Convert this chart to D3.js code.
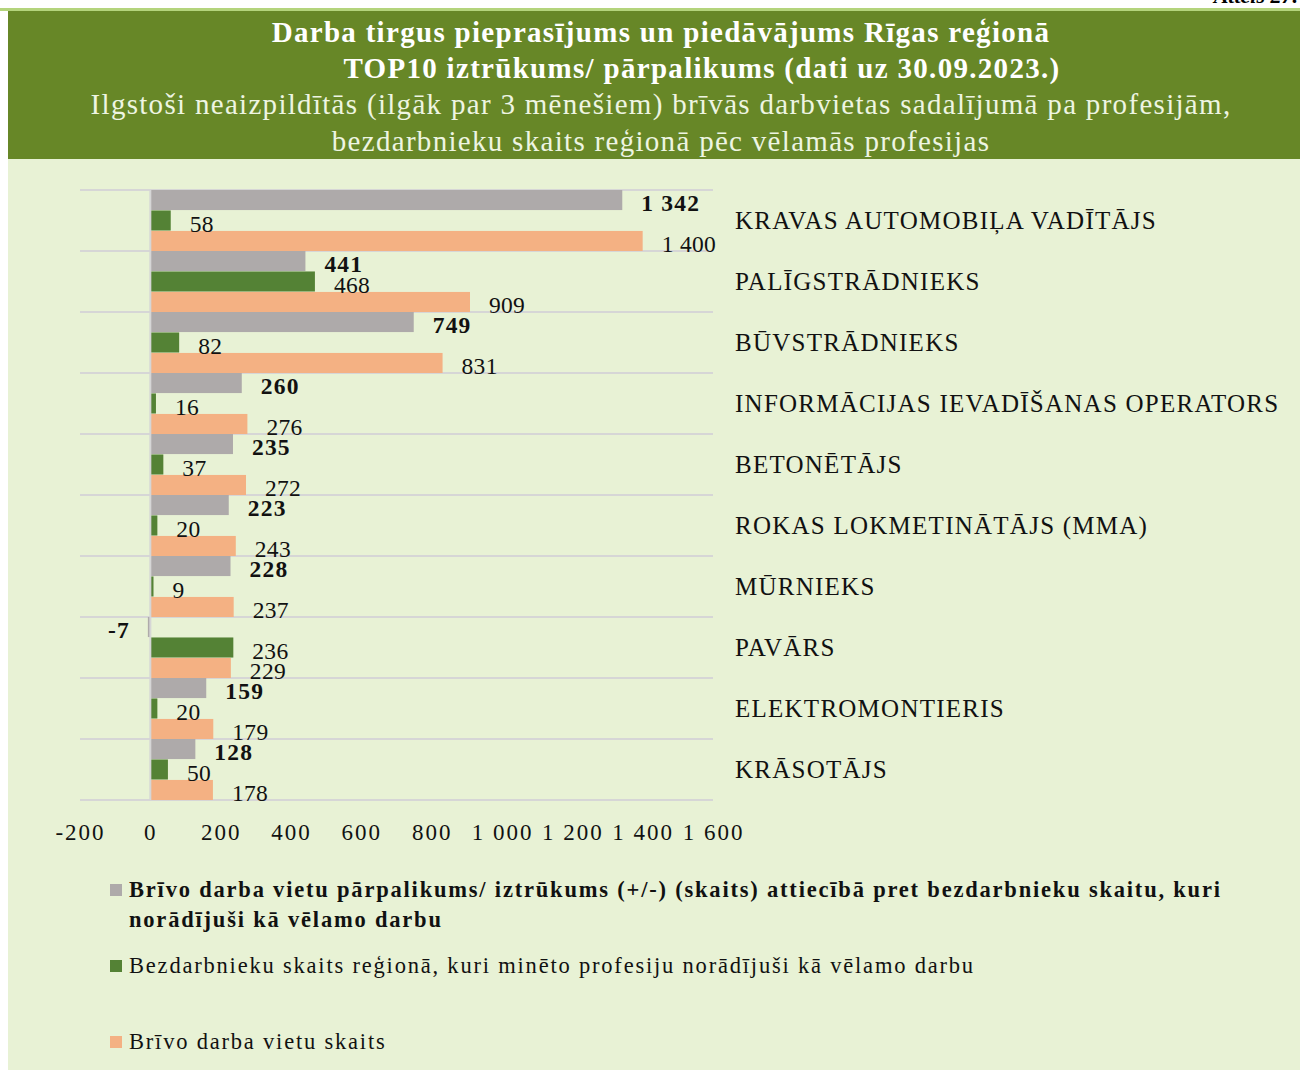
<!DOCTYPE html>
<html>
<head>
<meta charset="utf-8">
<script src="https://cdn.jsdelivr.net/npm/d3@7"></script>
<style>
  body { margin: 0; background: #fff; }
  svg { display: block; font-family: "Liberation Serif", "Times New Roman", serif; }
</style>
</head>
<body>
<div id="chart"></div>
<script>
const categories = [
  "KRAVAS AUTOMOBIĻA VADĪTĀJS",
  "PALĪGSTRĀDNIEKS",
  "BŪVSTRĀDNIEKS",
  "INFORMĀCIJAS IEVADĪŠANAS OPERATORS",
  "BETONĒTĀJS",
  "ROKAS LOKMETINĀTĀJS (MMA)",
  "MŪRNIEKS",
  "PAVĀRS",
  "ELEKTROMONTIERIS",
  "KRĀSOTĀJS"
];
const surplus = [1342, 441, 749, 260, 235, 223, 228, -7, 159, 128];
const unemployed = [58, 468, 82, 16, 37, 20, 9, 236, 20, 50];
const vacancies = [1400, 909, 831, 276, 272, 243, 237, 229, 179, 178];
const xTicks = [-200, 0, 200, 400, 600, 800, 1000, 1200, 1400, 1600];

const legendLabels = [
  ["Brīvo darba vietu pārpalikums/ iztrūkums (+/-) (skaits) attiecībā pret bezdarbnieku skaitu, kuri",
   "norādījuši kā vēlamo darbu"],
  ["Bezdarbnieku skaits reģionā, kuri minēto profesiju norādījuši kā vēlamo darbu"],
  ["Brīvo darba vietu skaits"]
];

const width = 1300, height = 1070;
const color = { gray: '#aeaaaa', green: '#548235', orange: '#f4b183', grid: '#d6d6d6' };
const fmt = v => d3.format(",d")(v).replace(/,/g, " ").replace("−", "-");

const svg = d3.select("#chart").append("svg")
  .attr("width", width).attr("height", height);

// backgrounds
svg.append("rect").attr("x", 0).attr("y", 8).attr("width", width).attr("height", 3).attr("fill", "#b4d47c");
svg.append("rect").attr("x", 8).attr("y", 11).attr("width", width - 8).attr("height", 148).attr("fill", "#678727");
svg.append("rect").attr("x", 8).attr("y", 159).attr("width", width - 8).attr("height", height - 159).attr("fill", "#e8f2d5");

svg.append("text").attr("x", 1298).attr("y", 3).attr("text-anchor", "end")
  .attr("font-size", 22).attr("font-style", "italic").attr("font-weight", "bold")
  .text("Attēls 27.");

// title
const titles = [
  { t: "Darba tirgus pieprasījums un piedāvājums Rīgas reģionā", x: 661, y: 42, b: true },
  { t: "TOP10 iztrūkums/ pārpalikums (dati uz 30.09.2023.)", x: 702, y: 78, b: true },
  { t: "Ilgstoši neaizpildītās (ilgāk par 3 mēnešiem) brīvās darbvietas sadalījumā pa profesijām,", x: 661, y: 114, b: false },
  { t: "bezdarbnieku skaits reģionā pēc vēlamās profesijas", x: 661, y: 151, b: false }
];
svg.append("g").selectAll("text").data(titles).enter().append("text")
  .attr("x", d => d.x).attr("y", d => d.y)
  .attr("text-anchor", "middle")
  .attr("font-size", 29)
  .attr("letter-spacing", 1.3)
  .attr("font-weight", d => d.b ? "bold" : "normal")
  .attr("fill", d => d.b ? "#ffffff" : "#eef5e2")
  .text(d => d.t);

// scales
const x = d3.scaleLinear().domain([-200, 1600]).range([80, 713]);
const y = d3.scaleBand().domain(categories).range([190, 800]).padding(0);
const sub = d3.scaleBand().domain([0, 1, 2]).range([0, y.bandwidth()]).paddingInner(0.02);

// gridlines between categories
const bounds = categories.map(c => y(c)).concat([y.range()[1]]);
svg.append("g").selectAll("line").data(bounds).enter().append("line")
  .attr("x1", x(-200)).attr("x2", x(1600))
  .attr("y1", d => d).attr("y2", d => d)
  .attr("stroke", color.grid).attr("stroke-width", 2);

const series = [
  { values: surplus, fill: color.gray, bold: true },
  { values: unemployed, fill: color.green, bold: false },
  { values: vacancies, fill: color.orange, bold: false }
];

// bars first
series.forEach((s, si) => {
  svg.append("g").selectAll("rect").data(s.values).enter().append("rect")
    .attr("x", d => x(Math.min(0, d)))
    .attr("y", (d, i) => y(categories[i]) + sub(si))
    .attr("width", d => Math.abs(x(d) - x(0)))
    .attr("height", sub.bandwidth())
    .attr("fill", s.fill);
});

// vertical axis line at 0
svg.append("line")
  .attr("x1", x(0)).attr("x2", x(0))
  .attr("y1", y.range()[0]).attr("y2", y.range()[1])
  .attr("stroke", color.grid).attr("stroke-width", 2);

// then value labels on top
series.forEach((s, si) => {
  svg.append("g").selectAll("text").data(s.values).enter().append("text")
    .attr("x", d => d >= 0 ? x(d) + 19 : x(d) - 18)
    .attr("y", (d, i) => y(categories[i]) + sub(si) + sub.bandwidth() + 1)
    .attr("text-anchor", d => d >= 0 ? "start" : "end")
    .attr("font-size", 23.5)
    .attr("letter-spacing", s.bold ? 1.2 : 0.3)
    .attr("font-weight", s.bold ? "bold" : "normal")
    .attr("fill", "#111")
    .text(d => fmt(d));
});

// category labels
svg.append("g").selectAll("text").data(categories).enter().append("text")
  .attr("x", 735)
  .attr("y", d => y(d) + y.bandwidth() / 2 + 8)
  .attr("font-size", 25)
  .attr("letter-spacing", 1.25)
  .attr("fill", "#111")
  .text(d => d);

// x axis
const xAxis = svg.append("g")
  .attr("transform", `translate(0,${y.range()[1] + 21})`)
  .call(d3.axisBottom(x).tickValues(xTicks).tickSize(0).tickFormat(fmt));
xAxis.select(".domain").remove();
xAxis.selectAll("text")
  .attr("font-family", "Liberation Serif, Times New Roman, serif")
  .attr("font-size", 23).attr("letter-spacing", 2).attr("fill", "#111");

// legend
const legendY = [897, 973, 1049];
const legendColors = [color.gray, color.green, color.orange];
legendLabels.forEach((lines, i) => {
  const g = svg.append("g");
  g.append("rect").attr("x", 110).attr("y", legendY[i] - 13).attr("width", 12).attr("height", 12)
    .attr("fill", legendColors[i]);
  lines.forEach((ln, j) => {
    g.append("text").attr("x", 129).attr("y", legendY[i] + j * 30)
      .attr("font-size", 22.5)
      .attr("letter-spacing", 1.8)
      .attr("font-weight", i === 0 ? "bold" : "normal")
      .attr("fill", "#111")
      .text(ln);
  });
});
</script>
</body>
</html>
